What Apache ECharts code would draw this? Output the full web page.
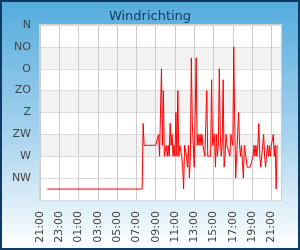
<!DOCTYPE html>
<html>
<head>
<meta charset="utf-8">
<script src="https://cdn.jsdelivr.net/npm/echarts@6.0.0/dist/echarts.min.js"></script>
<style>
	html, body { margin: 0; padding: 0; }
	#windChart {
		width: 300px;
		height: 250px;
		box-sizing: border-box;
		border: 2px solid #0e3a66;
		background: linear-gradient(to bottom, #55acdd 0%, #a9d4ee 55%, #ffffff 100%);
	}
</style>
</head>
<body>
<div id="windChart"></div>
<script>
// compass names, top (0 deg) to bottom (360 deg)
const dirNames = ['N', 'NO', 'O', 'ZO', 'Z', 'ZW', 'W', 'NW', '']

// night part: steady direction
const nightTimes = ['21:45']
const nightDir = [337.5]

// day part: one reading every 6 minutes from 07:36
const dayStart = '07:36'
const dayStepMin = 6
const dayDir = [
	337.5, 202.5, 247.5, 247.5, 247.5, 247.5, 247.5, 247.5, 247.5, 247.5,
	247.5, 247.5, 247.5, 247.5, 247.5, 247.5, 247.5, 225, 270, 270,
	90, 247.5, 135, 270, 270, 247.5, 270, 247.5, 270, 202.5,
	247.5, 225, 270, 247.5, 270, 180, 270, 135, 270, 247.5,
	247.5, 270, 292.5, 337.5, 247.5, 247.5, 270, 292.5, 247.5, 315,
	270, 67.5, 202.5, 247.5, 292.5, 292.5, 67.5, 247.5, 225, 247.5,
	225, 247.5, 225, 247.5, 247.5, 270, 270, 135, 270, 270,
	270, 270, 112.5, 247.5, 247.5, 225, 292.5, 225, 270, 247.5,
	90, 225, 270, 247.5, 112.5, 292.5, 270, 225, 247.5, 247.5,
	247.5, 270, 225, 225, 247.5, 45, 202.5, 315, 270, 225,
	180, 247.5, 270, 247.5, 247.5, 315, 247.5, 247.5, 247.5, 292.5,
	292.5, 292.5, 292.5, 292.5, 292.5, 270, 247.5, 270, 247.5, 270,
	247.5, 202.5, 270, 292.5, 292.5, 292.5, 225, 270, 292.5, 270,
	247.5, 270, 247.5, 270, 247.5, 247.5, 225, 270, 247.5, 337.5,
	247.5,
]

// x axis runs in hours counted from 21:00
const startHour = 21
const toHours = (t) => {
	const [h, m] = t.split(':').map(Number)
	return ((h * 60 + m - startHour * 60 + 1440) % 1440) / 60
}

const lineData = []
nightTimes.forEach((t, i) => lineData.push([toHours(t), nightDir[i]]))
const dayOffset = toHours(dayStart)
dayDir.forEach((v, i) => lineData.push([dayOffset + (i * dayStepMin) / 60, v]))

const labelColor = '#444'
const fontFamily = "'DejaVu Sans', sans-serif"

const chart = echarts.init(document.getElementById('windChart'))
chart.setOption({
	animation: false,
	title: {
		text: 'Windrichting',
		left: 'center',
		top: 3,
		textStyle: {
			color: '#12395f',
			fontSize: 13,
			fontWeight: 'normal',
			fontFamily,
		},
	},
	grid: {
		left: 38,
		top: 23,
		right: 17,
		bottom: 48,
		show: true,
		backgroundColor: '#ffffff',
		borderColor: '#d0d0d0',
		borderWidth: 2,
	},
	xAxis: {
		type: 'value',
		min: 0,
		max: 25,
		interval: 2,
		axisLine: { show: false },
		axisTick: { show: false },
		axisLabel: {
			rotate: 90,
			margin: 11,
			color: labelColor,
			fontSize: 11,
			fontFamily,
			formatter: (v) => {
				if (v % 2 !== 0) return ''
				const h = (startHour + v) % 24
				return (h < 10 ? '0' : '') + h + ':00'
			},
		},
		splitLine: {
			lineStyle: { color: '#cccccc', width: 1 },
		},
	},
	yAxis: {
		type: 'value',
		inverse: true,
		min: 0,
		max: 360,
		interval: 45,
		axisLine: { show: false },
		axisTick: { show: false },
		axisLabel: {
			margin: 9,
			color: labelColor,
			fontSize: 11,
			fontFamily,
			formatter: (v) => dirNames[Math.round(v / 45)],
		},
		splitLine: {
			lineStyle: { color: '#dddddd', width: 1 },
		},
		splitArea: {
			show: true,
			areaStyle: {
				color: ['#ffffff', '#f2f2f2', '#ffffff', '#f2f2f2', '#ffffff', '#f2f2f2', '#ffffff', '#ffffff'],
			},
		},
	},
	series: [
		{
			type: 'line',
			data: lineData,
			showSymbol: false,
			lineStyle: { color: '#ff0000', width: 1 },
		},
	],
})
</script>
</body>
</html>
